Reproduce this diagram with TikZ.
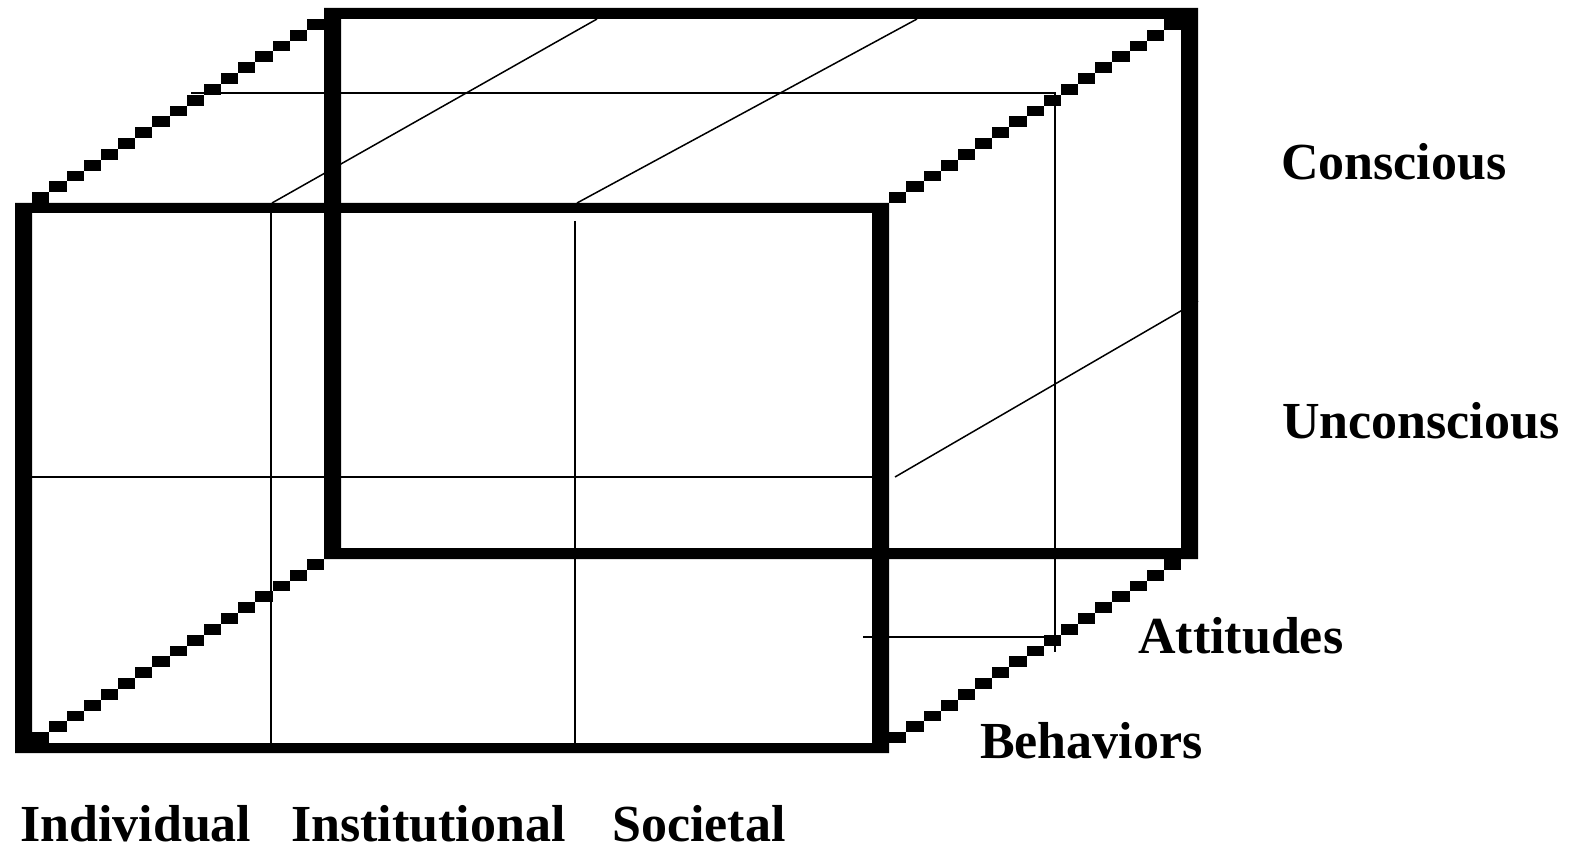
\documentclass[tikz,border=0pt]{standalone}
\usepackage{fontspec}
\setmainfont{Liberation Serif}
\usepackage{tikz}
\usetikzlibrary{calc}
\tikzset{
  frame/.style={fill=black, even odd rule},
  grid/.style={draw=black, line width=1.5pt},
  dot/.style={fill=black},
  lbl/.style={anchor=base west, inner sep=0pt, font=\fontsize{52}{62}\selectfont\bfseries}}

\begin{document}
\begin{tikzpicture}[x=1pt, y=-1pt]
  \useasboundingbox (0,0) rectangle (1580,853);
  % front and back faces
  \fill[frame] (15,203) rectangle (889,753) (32,213) rectangle (872,743);
  \fill[frame] (324,8) rectangle (1198,559) (341,19) rectangle (1181,548);
  % dotted depth edges
  \foreach \cx/\cy in {15/203, 872/203, 872/743, 15/743}
    \foreach \k in {1,...,17}
      \fill[dot] (\cx+\k*17.17, \cy-\k*10.83) rectangle ++(17.17,10.83);
  % inner divisions
  \draw[grid] (271,213) -- (271,743);
  \draw[grid] (575,221) -- (575,743);
  \draw[grid] (32,477) -- (872,477);
  \draw[grid] (272,203) -- (597,19);
  \draw[grid] (577,203) -- (917,19);
  \draw[grid] (191,93) -- (1055,93) -- (1055,652);
  \draw[grid] (863,637) -- (1055,637);
  \draw[grid] (895,477) -- (1198,301);
  % labels
  \node[lbl] (con) at (1281,180) {Conscious};
  \node[lbl] (uncon) at (1282,438) {Unconscious};
  \node[lbl] (att) at (1138,653) {Attitudes};
  \node[lbl] (beh) at (980,758) {Behaviors};
  \node[lbl] (ind) at (20,841) {Individual};
  \node[lbl] (inst) at (291,841) {Institutional};
  \node[lbl] (soc) at (612,841) {Societal};
\end{tikzpicture}
\end{document}
